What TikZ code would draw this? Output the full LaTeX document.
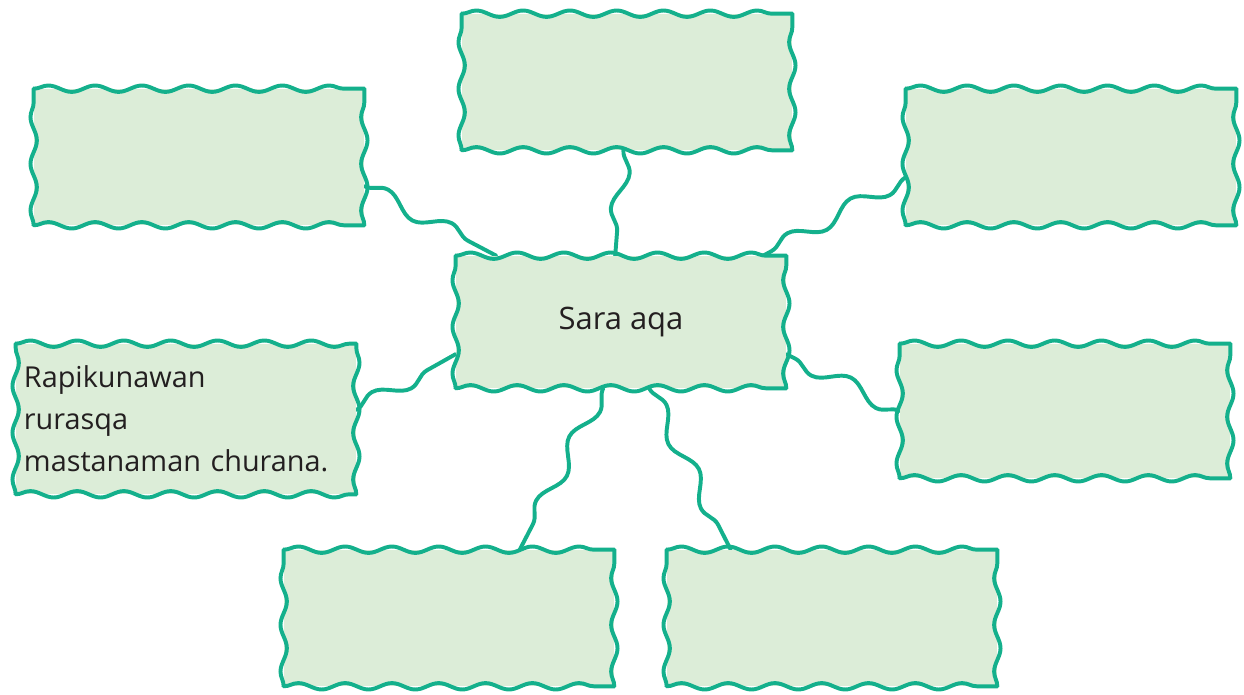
\documentclass[tikz,border=0pt]{standalone}
\usepackage{fontspec}
\setmainfont{Open Sans}
\usepackage{tikz}
\usetikzlibrary{decorations.pathmorphing}
\definecolor{MapFill}{HTML}{DCEDD8}
\definecolor{MapLine}{HTML}{14B08C}
\definecolor{MapText}{HTML}{231F20}
\pgfdeclarelayer{background}
\pgfsetlayers{background,main}

\begin{document}
\begin{tikzpicture}[x=0.025cm, y=0.025cm]
        \tikzstyle{wavebox}  = [rectangle, minimum width=8.25cm, minimum height=3.4cm, inner sep=0pt, font=\fontsize{22}{30}\selectfont, text=MapText]
        \tikzstyle{waveedge} = [draw=MapLine, line width=2.8pt, line cap=round, decorate, decoration={snake, segment length=1.17cm, amplitude=0.8mm}]
        \tikzstyle{wavelink} = [draw=MapLine, line width=2.8pt, line cap=round, decorate, decoration={snake, segment length=1.8cm, amplitude=2mm}]

        \useasboundingbox (0,0) rectangle (1244,-695);

        % Boxes
        \node[wavebox, minimum height=3.3cm] (cen) at (621,-322) {Sara aqa};
        \node[wavebox] (tc) at (627,-82) {};
        \node[wavebox] (tl) at (199,-157) {};
        \node[wavebox] (tr) at (1071,-157) {};
        \node[wavebox, minimum width=8.5cm, minimum height=3.75cm, text width=8.1cm, align=left, font=\fontsize{20.5}{30}\selectfont] (lm) at (186,-419) {Rapikunawan\\ rurasqa\\ mastanaman churana.};
        \node[wavebox, minimum height=3.35cm] (rm) at (1065,-411) {};
        \node[wavebox] (bl) at (449,-618) {};
        \node[wavebox] (br) at (832,-618) {};

        \begin{pgfonlayer}{background}
        % Links
        \draw[wavelink] (tc.-93) -- (cen.95);
        \draw[wavelink] (tl.-10) -- (cen.152);
        \draw[wavelink] (tr.187) -- (cen.25);
        \draw[wavelink] (lm.3) -- (cen.191);
        \draw[wavelink] (rm.180) -- (cen.-11);
        \draw[wavelink] (cen.255) -- (bl.44);
        \draw[wavelink] (cen.-67) -- (br.146);

        % Wavy borders
        \foreach \b in {cen, tc, tl, tr, lm, rm, bl, br} {
            \fill[MapFill] (\b.south west) rectangle (\b.north east);
            \draw[waveedge] (\b.north west) -- (\b.north east);
            \draw[waveedge] (\b.south west) -- (\b.south east);
            \draw[waveedge] (\b.south west) -- (\b.north west);
            \draw[waveedge] (\b.south east) -- (\b.north east);
        }
        \end{pgfonlayer}
    \end{tikzpicture}
\end{document}
